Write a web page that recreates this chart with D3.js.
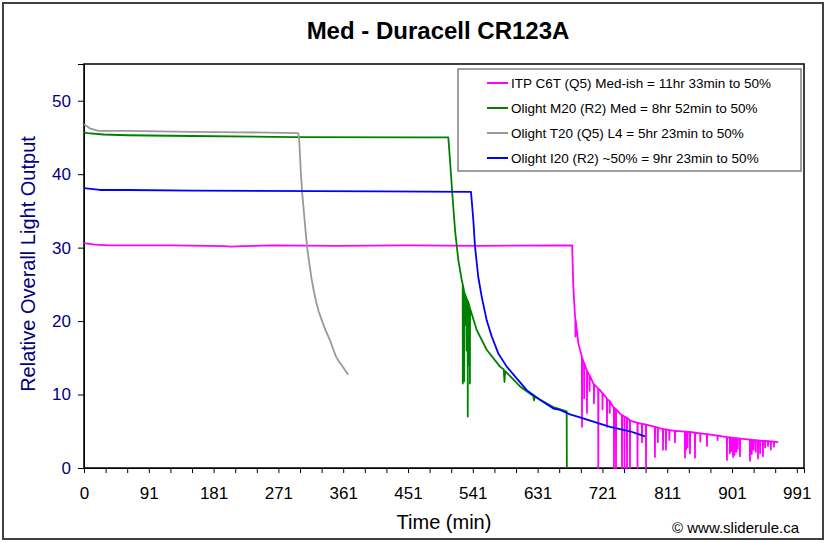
<!DOCTYPE html>
<html><head><meta charset="utf-8">
<script src="https://cdn.jsdelivr.net/npm/d3@7"></script>
<style>
html,body{margin:0;padding:0;background:#fff;}
svg{display:block;font-family:"Liberation Sans",Arial,sans-serif;}
</style></head>
<body><svg id="chart" width="829" height="543"></svg>
<script>
// ---- data (time in minutes, relative output) ----
const chartTitle = "Med - Duracell CR123A";
const seriesNames = [
  "ITP C6T (Q5) Med-ish = 11hr 33min to 50%",
  "Olight M20 (R2) Med = 8hr 52min to 50%",
  "Olight T20 (Q5) L4 = 5hr 23min to 50%",
  "Olight I20 (R2) ~50% = 9hr 23min to 50%"
];
const seriesColors = ["#FF00FF", "#008000", "#999999", "#0000FF"];
const xTickLabels = ["0","91","181","271","361","451","541","631","721","811","901","991"];
const yTickValues = [0,10,20,30,40,50];

const itpC6T = [[0,30.6],[15,30.4],[35,30.3],[120,30.3],[195,30.2],[205,30.15],[220,30.2],[260,30.3],[350,30.25],[450,30.3],[550,30.25],[678,30.3],
 [679.6,24.7],[682,20.6],[682.4,20.3],[682.6,17.9],[682.8,20.2],[686.5,17.0],[691.3,15.2],[691.5,15.1],[691.7,5.6],[691.9,15.0],
 [694.5,14.3],[694.7,9.5],[694.9,14.3],
 [698.2,13.3],[698.4,13.2],[698.6,7.5],[698.8,13.2],[702,12.6],[702.2,10.5],[702.4,12.6],[707.4,11.5],[708.1,11.4],[708.3,8.8],[708.5,11.4],
 [714.1,10.8],[714.3,0],[714.5,10.8],[716.7,10.6],[720,10.2],[720.2,8.0],[720.4,10.2],[726,9.5],[726.2,9.5],[726.4,5.6],[726.6,9.4],
 [730,9.1],[730.2,7.5],[730.4,9.1],[735.1,8.3],[735.9,8.2],[736.1,0],[736.3,8.2],[738.7,8.0],[738.9,0],[739.1,8.0],[744.4,7.4],
 [747,7.2],[747.2,0],[747.4,7.2],[750.5,7.0],[750.7,0],[750.9,7.0],[754,6.8],[754.2,0],[754.4,6.8],[758.1,6.5],[758.3,0],[758.5,6.5],
 [762.9,6.3],[768.6,6.15],[768.8,0],[769,6.15],[774.8,6.0],[775,3.5],[775.2,6.0],[780.4,5.9],[780.6,0],[780.8,5.9],[792.8,5.6],[793,1.5],[793.2,5.6],[796.8,5.5],[797,3.5],[797.2,5.5],
 [800,5.4],[804,5.3],[804.2,2.5],[804.4,5.3],[808.1,5.25],[808.3,2.5],[808.5,5.25],[812.8,5.15],[813,3.8],[813.2,5.15],[820.6,5.05],[820.8,3.5],[821,5.05],
 [834.5,4.95],[834.7,1.4],[834.9,4.95],[836,4.95],[836.2,2.5],[836.4,4.95],[838,4.93],[838.2,2.8],[838.4,4.93],[841.5,4.9],[841.7,2.0],[841.9,4.9],[848.4,4.8],[848.6,1.4],[848.8,4.8],
 [855.8,4.7],[856,3.6],[856.2,4.7],[865.1,4.6],[865.3,3.0],[865.5,4.6],[879.8,4.4],[880,3.8],[880.2,4.4],[892.8,4.2],[893,1.1],[893.2,4.2],
 [896.8,4.15],[897,2.0],[897.2,4.15],[898.8,4.13],[899,2.3],[899.2,4.13],[901.2,4.1],[901.4,1.5],[901.6,4.1],[903.3,4.08],[903.5,1.8],[903.7,4.08],
 [905.8,4.05],[906,2.2],[906.2,4.05],[907.8,4.03],[908,2.6],[908.2,4.03],[910.9,4.0],[911.1,1.6],[911.3,4.0],
 [924.8,3.85],[925,1.0],[925.2,3.85],[927.3,3.83],[927.5,1.9],[927.7,3.83],[929.8,3.8],[930,2.5],[930.2,3.8],[932.8,3.78],[933,2.2],[933.2,3.78],
 [935.9,3.75],[936.1,1.3],[936.3,3.75],[938.8,3.72],[939,2.0],[939.2,3.72],[942.8,3.7],[943,1.6],[943.2,3.7],[945.8,3.68],[946,2.8],[946.2,3.68],
 [949.8,3.65],[950,3.0],[950.2,3.65],[953.8,3.63],[954,2.5],[954.2,3.63],[958.1,3.6],[958.3,2.9],[958.5,3.6],[964.3,3.5]];

const olightM20 = [[0,45.7],[5,45.6],[27,45.4],[60,45.3],[150,45.2],[290,45.05],[467,45.0],[506,45.0],[508.3,41.9],[511.5,37.4],[515.3,32.4],[519.9,28.3],[524.6,25.6],
 [526,25.0],[526.1,11.5],[526.3,24.9],[528,24.0],[528.1,11.8],[528.3,23.9],[529.8,23.5],[530,19.5],[530.2,23.4],[531.3,23.1],[531.5,16.0],[531.7,23.0],
 [532.8,22.8],[533,7.0],[533.2,22.7],[534.3,22.4],[534.5,14.0],[534.7,22.3],[535.8,21.8],[536,11.5],[536.2,21.7],
 [545.4,18.8],[559.3,16.1],[577.8,13.8],[583,13.4],[584,11.7],[585,13.2],[605.6,11.1],[624,9.8],[625,9.2],[626,9.7],[651.8,8.3],[670.4,7.7],[670.6,0]];

const olightT20 = [[0,46.8],[8,46.25],[20,45.9],[60,45.9],[150,45.75],[220,45.7],[297.6,45.6],[299,44.5],[301,40.5],[303,37.5],[305,35.3],[307.5,32.5],[310,30.0],
 [313,27.8],[316,25.8],[319,24.2],[322,22.8],[326,21.3],[330,20.2],[334,19.1],[338,18.2],[342,17.3],[346,16.2],[350,15.2],[354,14.5],[358,14.0],[362,13.4],[367,12.7]];

const olightI20 = [[0,38.1],[22,37.85],[60,37.85],[152,37.75],[411,37.65],[537.5,37.6],[540.7,33.8],[543.1,30.1],[547.6,26.0],[552.4,23.3],[559.3,20.1],[566.3,17.9],
 [575.4,15.6],[587.1,13.8],[601,12.2],[614.9,10.6],[633.3,9.3],[651.8,8.1],[661.1,7.9],[675,7.3],[688.9,6.9],[707.4,6.3],[730.6,5.6],[758.3,5.0],[769.9,4.6],[779.2,4.3]];

const seriesData = [itpC6T, olightM20, olightT20, olightI20];

// ---- layout ----
const svg = d3.select("#chart");
const plot = {left:84, top:64, right:804, bottom:468};
const x = d3.scaleLinear().domain([0,1000]).range([plot.left, plot.right]);
const y = d3.scaleLinear().domain([0,55]).range([plot.bottom, plot.top]);

// outer chart border
svg.append("rect").attr("x",3).attr("y",3).attr("width",820).attr("height",536)
  .attr("fill","#fff").attr("stroke","#404040").attr("stroke-width",2);

// title
svg.append("text").attr("x",438).attr("y",39).attr("text-anchor","middle")
  .attr("font-size",24).attr("font-weight","bold").attr("fill","#000").text(chartTitle);

// plot frame
svg.append("rect").attr("x",plot.left).attr("y",plot.top)
  .attr("width",plot.right-plot.left).attr("height",plot.bottom-plot.top)
  .attr("fill","#fff").attr("stroke","#000").attr("stroke-width",1.5);

// y axis
const yAxis = d3.axisLeft(y).tickValues(yTickValues).tickSize(6).tickPadding(7).tickFormat(d3.format("d"));
const gy = svg.append("g").attr("transform",`translate(${plot.left},0)`).call(yAxis);
gy.select(".domain").attr("stroke","#000");
gy.selectAll(".tick line").attr("stroke","#000");
gy.selectAll(".tick text").attr("fill","#000080").attr("font-size",17).attr("font-family","Liberation Sans, Arial, sans-serif");

// x axis: ticks every 30, labels every 90
const xTicks = d3.range(0, 991, 30);
const xAxis = d3.axisBottom(x).tickValues(xTicks).tickSize(5).tickPadding(14)
  .tickFormat(d => (d % 90 === 0) ? xTickLabels[d/90] : "");
const gx = svg.append("g").attr("transform",`translate(0,${plot.bottom})`).call(xAxis);
gx.select(".domain").attr("stroke","#000");
gx.selectAll(".tick line").attr("stroke","#000");
gx.selectAll(".tick text").attr("fill","#000").attr("font-size",17).attr("font-family","Liberation Sans, Arial, sans-serif");

// axis titles
svg.append("text").attr("transform","translate(35,264) rotate(-90)").attr("text-anchor","middle")
  .attr("font-size",20).attr("fill","#000080").text("Relative Overall Light Output");
svg.append("text").attr("x",444).attr("y",529).attr("text-anchor","middle")
  .attr("font-size",20).attr("fill","#000").text("Time (min)");
svg.append("text").attr("x",799).attr("y",533).attr("text-anchor","end")
  .attr("font-size",15).attr("fill","#000").text("\u00A9 www.sliderule.ca");

// series lines
const line = d3.line().x(d => x(d[0])).y(d => y(d[1]));
const gLines = svg.append("g");
seriesData.forEach((s,i) => {
  gLines.append("path").datum(s).attr("d",line).attr("fill","none")
    .attr("stroke",seriesColors[i]).attr("stroke-width",1.8).attr("stroke-linejoin","round");
});

// legend
const lg = svg.append("g");
lg.append("rect").attr("x",458).attr("y",69).attr("width",343).attr("height",102)
  .attr("fill","#fff").attr("stroke","#808080").attr("stroke-width",1.5);
seriesNames.forEach((n,i) => {
  const cy = 83 + i*25;
  lg.append("line").attr("x1",487).attr("x2",508).attr("y1",cy).attr("y2",cy)
    .attr("stroke",seriesColors[i]).attr("stroke-width",2);
  lg.append("text").attr("x",511).attr("y",cy+5).attr("font-size",13.5).attr("fill","#000").text(n);
});
</script></body></html>
